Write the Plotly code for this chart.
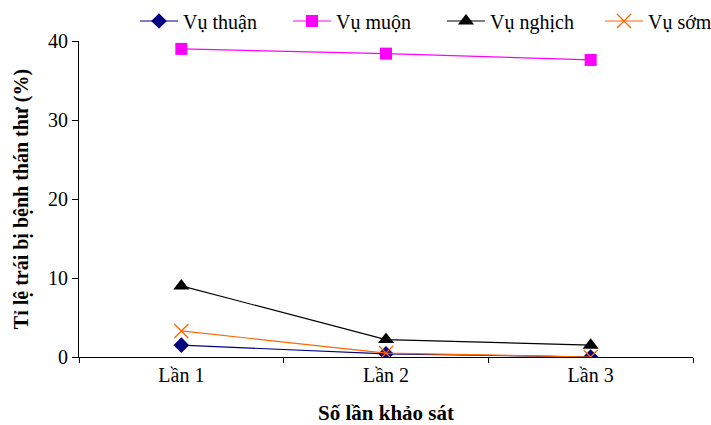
import plotly.graph_objects as go

# Survey rounds and share of fruit infected with anthracnose (%) per season
rounds = ["Lần 1", "Lần 2", "Lần 3"]
vu_thuan = [1.5, 0.4, 0.0]
vu_muon = [39.0, 38.4, 37.6]
vu_nghich = [9.0, 2.2, 1.5]
vu_som = [3.3, 0.5, 0.0]

W, H = 711, 425
series = [
    ("Vụ thuận", vu_thuan, "#000080", dict(symbol="diamond", size=12, color="#000080"), "legend", 135),
    ("Vụ muộn", vu_muon, "#FF00FF", dict(symbol="square", size=12, color="#FF00FF"), "legend2", 288),
    ("Vụ nghịch", vu_nghich, "#000000", dict(symbol="triangle-up", size=14, color="#000000"), "legend3", 442),
    ("Vụ sớm", vu_som, "#FF6600", dict(symbol="x-thin-open", size=14, color="#FF6600",
                                        line=dict(width=1.3, color="#FF6600")), "legend4", 600),
]

font_family = "Liberation Serif"
fig = go.Figure()
legends = {}
for name, vals, col, mk, leg, px in series:
    fig.add_trace(go.Scatter(
        x=rounds, y=vals, name=name, mode="lines+markers",
        line=dict(color=col, width=1.2), marker=mk, legend=leg,
    ))
    legends[leg] = dict(
        xref="container", yref="container", x=px / W, xanchor="left",
        y=1 - 21 / H, yanchor="middle", orientation="h", itemwidth=38,
        font=dict(family=font_family, size=20, color="black"),
        bgcolor="rgba(0,0,0,0)", borderwidth=0,
    )

fig.update_layout(
    width=W, height=H,
    margin=dict(l=79, r=18, t=41, b=68, autoexpand=False),
    paper_bgcolor="white", plot_bgcolor="white",
    font=dict(family=font_family, size=20, color="black"),
    showlegend=True,
    **legends,
    xaxis=dict(
        type="category", range=[-0.5, 2.5], tickson="boundaries",
        showline=True, linecolor="black", linewidth=1,
        ticks="outside", ticklen=5, tickcolor="black",
        showgrid=False, zeroline=False,
        title=dict(text="<b>Số lần khảo sát</b>", font=dict(size=21), standoff=24),
    ),
    yaxis=dict(
        range=[0, 40], dtick=10, showline=True, linecolor="black", linewidth=1,
        ticks="outside", ticklen=6, tickcolor="black",
        showgrid=False, zeroline=False,
        title=dict(text="<b>Tỉ lệ trái bị bệnh thán thư (%)</b>", font=dict(size=20), standoff=14),
    ),
)

fig.write_html("out.html")
